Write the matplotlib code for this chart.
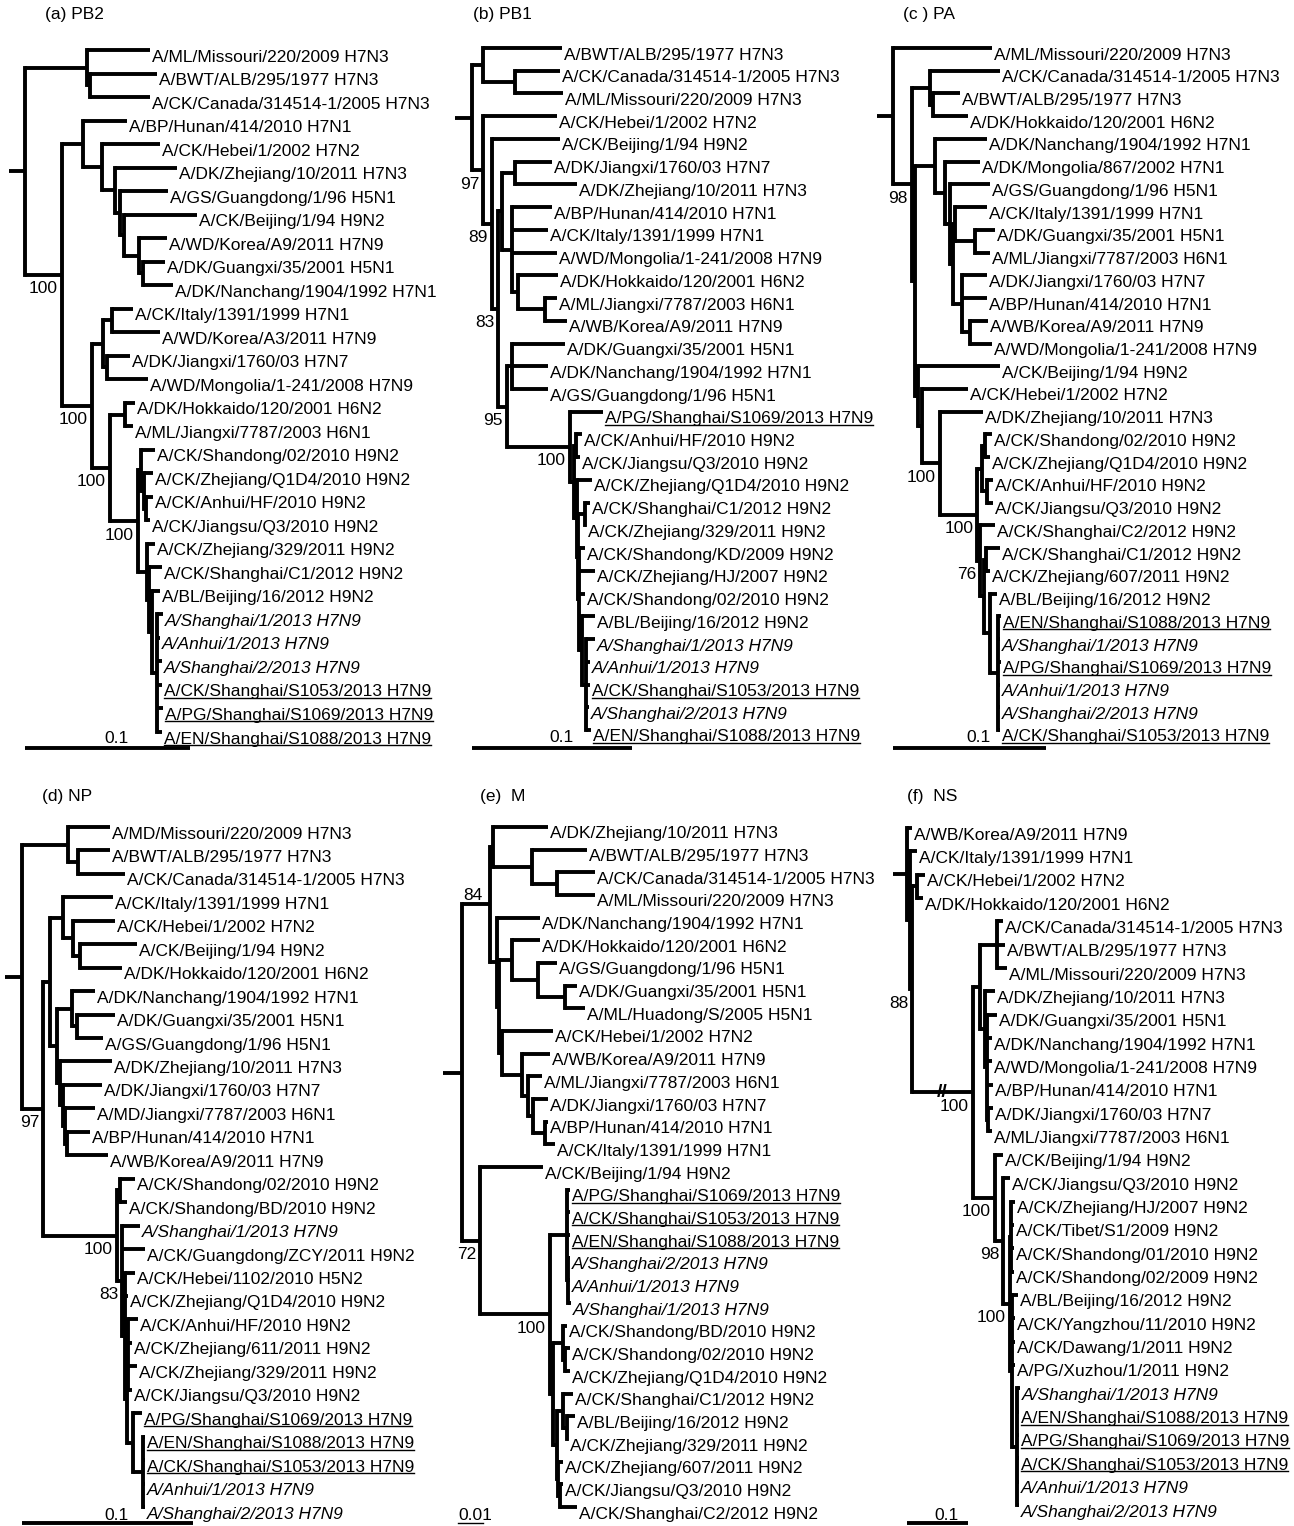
"""Six influenza segment trees (PB2, PB1, PA, NP, M, NS) drawn as rectangular phylograms."""

import matplotlib

matplotlib.use("Agg")
import matplotlib.pyplot as plt
from matplotlib import transforms
from matplotlib.lines import Line2D

plt.rcParams["font.family"] = ["Liberation Sans", "DejaVu Sans"]

W, H = 1294, 1526
INK = "black"
FS = 12.5
LW = 2.8

# ---- data: taxa in drawing order, trees as newick (tip = index into taxa,
# branch lengths in substitutions/site, internal labels = bootstrap) ----

TAXA_A = [
    "A/ML/Missouri/220/2009 H7N3", "A/BWT/ALB/295/1977 H7N3", "A/CK/Canada/314514-1/2005 H7N3",
    "A/BP/Hunan/414/2010 H7N1", "A/CK/Hebei/1/2002 H7N2", "A/DK/Zhejiang/10/2011 H7N3",
    "A/GS/Guangdong/1/96 H5N1", "A/CK/Beijing/1/94 H9N2", "A/WD/Korea/A9/2011 H7N9",
    "A/DK/Guangxi/35/2001 H5N1", "A/DK/Nanchang/1904/1992 H7N1", "A/CK/Italy/1391/1999 H7N1",
    "A/WD/Korea/A3/2011 H7N9", "A/DK/Jiangxi/1760/03 H7N7", "A/WD/Mongolia/1-241/2008 H7N9",
    "A/DK/Hokkaido/120/2001 H6N2", "A/ML/Jiangxi/7787/2003 H6N1", "A/CK/Shandong/02/2010 H9N2",
    "A/CK/Zhejiang/Q1D4/2010 H9N2", "A/CK/Anhui/HF/2010 H9N2", "A/CK/Jiangsu/Q3/2010 H9N2",
    "A/CK/Zhejiang/329/2011 H9N2", "A/CK/Shanghai/C1/2012 H9N2", "A/BL/Beijing/16/2012 H9N2",
    "A/Shanghai/1/2013 H7N9", "A/Anhui/1/2013 H7N9", "A/Shanghai/2/2013 H7N9",
    "A/CK/Shanghai/S1053/2013 H7N9", "A/PG/Shanghai/S1069/2013 H7N9", "A/EN/Shanghai/S1088/2013 H7N9",
]
TREE_A = """(
 (0:0.0382,(1:0.0406,2:0.0364):0.0018):0.0376,
 ((3:0.0267,(4:0.0352,(5:0.0376,(6:0.0291,(7:0.0442,(8:0.0170,(9:0.0133,10:0.0182):0.0024):0.0091):0.0024):0.0030):0.0079):0.0115):0.0127,
  (((11:0.0127,12:0.0291):0.0055,(13:0.0139,14:0.0248):0.0024):0.0067,
   ((15:0.0061,16:0.0048):0.0091,
    ((17:0.0085,(18:0.0055,(19:0.0042,20:0.0024):0.0012):0.0018):0.0018,
     (21:0.0048,(22:0.0079,(23:0.0048,(24:0.0036,25:0.0018,26:0.0030,27:0.0030,28:0.0036,29:0.0030):0.0030):0.0018):0.0012):0.0055
    )100:0.0170
   )100:0.0109
  )100:0.0182
 )100:0.0224
):0.0097;"""

TAXA_B = [
    "A/BWT/ALB/295/1977 H7N3", "A/CK/Canada/314514-1/2005 H7N3", "A/ML/Missouri/220/2009 H7N3",
    "A/CK/Hebei/1/2002 H7N2", "A/CK/Beijing/1/94 H9N2", "A/DK/Jiangxi/1760/03 H7N7",
    "A/DK/Zhejiang/10/2011 H7N3", "A/BP/Hunan/414/2010 H7N1", "A/CK/Italy/1391/1999 H7N1",
    "A/WD/Mongolia/1-241/2008 H7N9", "A/DK/Hokkaido/120/2001 H6N2", "A/ML/Jiangxi/7787/2003 H6N1",
    "A/WB/Korea/A9/2011 H7N9", "A/DK/Guangxi/35/2001 H5N1", "A/DK/Nanchang/1904/1992 H7N1",
    "A/GS/Guangdong/1/96 H5N1", "A/PG/Shanghai/S1069/2013 H7N9", "A/CK/Anhui/HF/2010 H9N2",
    "A/CK/Jiangsu/Q3/2010 H9N2", "A/CK/Zhejiang/Q1D4/2010 H9N2", "A/CK/Shanghai/C1/2012 H9N2",
    "A/CK/Zhejiang/329/2011 H9N2", "A/CK/Shandong/KD/2009 H9N2", "A/CK/Zhejiang/HJ/2007 H9N2",
    "A/CK/Shandong/02/2010 H9N2", "A/BL/Beijing/16/2012 H9N2", "A/Shanghai/1/2013 H7N9",
    "A/Anhui/1/2013 H7N9", "A/CK/Shanghai/S1053/2013 H7N9", "A/Shanghai/2/2013 H7N9",
    "A/EN/Shanghai/S1088/2013 H7N9",
]
TREE_B = """(
 (0:0.0494,(1:0.0281,2:0.0300):0.0200):0.0069,
 (3:0.0463,
  (4:0.0425,
   (((5:0.0231,6:0.0388):0.0081,(7:0.0250,8:0.0225,9:0.0281,(10:0.0250,(11:0.0075,12:0.0138):0.0169):0.0038):0.0063):0.0025,
    ((13:0.0331,14:0.0225,15:0.0225):0.0031,
     (16:0.0206,
      ((17:0.0038,18:0.0025):0.0013,
       (19:0.0094,
        ((20:0.0031,21:0.0006):0.0044,
         (22:0.0038,23:0.0100,24:0.0038,(25:0.0081,(26:0.0056,27:0.0025,28:0.0025,29:0.0019,30:0.0031):0.0025):0.0019):0.0006
        ):0.0006
       ):0.0019
      ):0.0025
     )100:0.0394
    )95:0.0056
   )83:0.0038
  )89:0.0056
 )97:0.0069
):0.0106;"""

TAXA_C = [
    "A/ML/Missouri/220/2009 H7N3", "A/CK/Canada/314514-1/2005 H7N3", "A/BWT/ALB/295/1977 H7N3",
    "A/DK/Hokkaido/120/2001 H6N2", "A/DK/Nanchang/1904/1992 H7N1", "A/DK/Mongolia/867/2002 H7N1",
    "A/GS/Guangdong/1/96 H5N1", "A/CK/Italy/1391/1999 H7N1", "A/DK/Guangxi/35/2001 H5N1",
    "A/ML/Jiangxi/7787/2003 H6N1", "A/DK/Jiangxi/1760/03 H7N7", "A/BP/Hunan/414/2010 H7N1",
    "A/WB/Korea/A9/2011 H7N9", "A/WD/Mongolia/1-241/2008 H7N9", "A/CK/Beijing/1/94 H9N2",
    "A/CK/Hebei/1/2002 H7N2", "A/DK/Zhejiang/10/2011 H7N3", "A/CK/Shandong/02/2010 H9N2",
    "A/CK/Zhejiang/Q1D4/2010 H9N2", "A/CK/Anhui/HF/2010 H9N2", "A/CK/Jiangsu/Q3/2010 H9N2",
    "A/CK/Shanghai/C2/2012 H9N2", "A/CK/Shanghai/C1/2012 H9N2", "A/CK/Zhejiang/607/2011 H9N2",
    "A/BL/Beijing/16/2012 H9N2", "A/EN/Shanghai/S1088/2013 H7N9", "A/Shanghai/1/2013 H7N9",
    "A/PG/Shanghai/S1069/2013 H7N9", "A/Anhui/1/2013 H7N9", "A/Shanghai/2/2013 H7N9",
    "A/CK/Shanghai/S1053/2013 H7N9",
]
TREE_C = """(0:0.0647,
 ((1:0.0458,(2:0.0177,3:0.0229):0.0020):0.0118,
  ((4:0.0340,(5:0.0229,(6:0.0262,((7:0.0209,(8:0.0131,9:0.0098):0.0131):0.0013,(10:0.0164,11:0.0164,(12:0.0118,13:0.0144):0.0052):0.0059):0.0020):0.0033):0.0065):0.0131,
   (14:0.0536,
    (15:0.0301,
     (16:0.0281,
      (((17:0.0046,18:0.0033):0.0020,(19:0.0039,20:0.0039):0.0033):0.0033,
       (21:0.0098,((22:0.0092,23:0.0026):0.0013,(24:0.0046,(25:0.0020,26:0.0013,27:0.0020,28:0.0013,29:0.0013,30:0.0013):0.0052):0.0039):0.0026)76:0.0020
      )100:0.0242
     )100:0.0118
    ):0.0026
   ):0.0020
  ):0.0020
 )98:0.0124
):0.0105;"""

TAXA_D = [
    "A/MD/Missouri/220/2009 H7N3", "A/BWT/ALB/295/1977 H7N3", "A/CK/Canada/314514-1/2005 H7N3",
    "A/CK/Italy/1391/1999 H7N1", "A/CK/Hebei/1/2002 H7N2", "A/CK/Beijing/1/94 H9N2",
    "A/DK/Hokkaido/120/2001 H6N2", "A/DK/Nanchang/1904/1992 H7N1", "A/DK/Guangxi/35/2001 H5N1",
    "A/GS/Guangdong/1/96 H5N1", "A/DK/Zhejiang/10/2011 H7N3", "A/DK/Jiangxi/1760/03 H7N7",
    "A/MD/Jiangxi/7787/2003 H6N1", "A/BP/Hunan/414/2010 H7N1", "A/WB/Korea/A9/2011 H7N9",
    "A/CK/Shandong/02/2010 H9N2", "A/CK/Shandong/BD/2010 H9N2", "A/Shanghai/1/2013 H7N9",
    "A/CK/Guangdong/ZCY/2011 H9N2", "A/CK/Hebei/1102/2010 H5N2", "A/CK/Zhejiang/Q1D4/2010 H9N2",
    "A/CK/Anhui/HF/2010 H9N2", "A/CK/Zhejiang/611/2011 H9N2", "A/CK/Zhejiang/329/2011 H9N2",
    "A/CK/Jiangsu/Q3/2010 H9N2", "A/PG/Shanghai/S1069/2013 H7N9", "A/EN/Shanghai/S1088/2013 H7N9",
    "A/CK/Shanghai/S1053/2013 H7N9", "A/Anhui/1/2013 H7N9", "A/Shanghai/2/2013 H7N9",
]
TREE_D = """(
 (0:0.0246,(1:0.0187,2:0.0275):0.0058):0.0269,
 (((3:0.0292,(4:0.0246,(5:0.0333,6:0.0246):0.0041):0.0058):0.0076,
   ((7:0.0135,(8:0.0222,9:0.0152):0.0029):0.0088,(10:0.0304,(11:0.0228,(12:0.0176,(13:0.0135,14:0.0240):0.0012):0.0012):0.0018):0.0018):0.0041
  ):0.0041,
  ((15:0.0088,16:0.0041):0.0018,
   (17:0.0105,18:0.0135,(19:0.0058,20:0.0018,((21:0.0058,22:0.0023,23:0.0053,24:0.0023):0.0006,(25:0.0053,(26:0.0012,27:0.0012,28:0.0012,29:0.0012):0.0058):0.0035):0.0012):0.0018)83:0.0029
  )100:0.0433
 )97:0.0123
):0.0099;"""

TAXA_E = [
    "A/DK/Zhejiang/10/2011 H7N3", "A/BWT/ALB/295/1977 H7N3", "A/CK/Canada/314514-1/2005 H7N3",
    "A/ML/Missouri/220/2009 H7N3", "A/DK/Nanchang/1904/1992 H7N1", "A/DK/Hokkaido/120/2001 H6N2",
    "A/GS/Guangdong/1/96 H5N1", "A/DK/Guangxi/35/2001 H5N1", "A/ML/Huadong/S/2005 H5N1",
    "A/CK/Hebei/1/2002 H7N2", "A/WB/Korea/A9/2011 H7N9", "A/ML/Jiangxi/7787/2003 H6N1",
    "A/DK/Jiangxi/1760/03 H7N7", "A/BP/Hunan/414/2010 H7N1", "A/CK/Italy/1391/1999 H7N1",
    "A/CK/Beijing/1/94 H9N2", "A/PG/Shanghai/S1069/2013 H7N9", "A/CK/Shanghai/S1053/2013 H7N9",
    "A/EN/Shanghai/S1088/2013 H7N9", "A/Shanghai/2/2013 H7N9", "A/Anhui/1/2013 H7N9",
    "A/Shanghai/1/2013 H7N9", "A/CK/Shandong/BD/2010 H9N2", "A/CK/Shandong/02/2010 H9N2",
    "A/CK/Zhejiang/Q1D4/2010 H9N2", "A/CK/Shanghai/C1/2012 H9N2", "A/BL/Beijing/16/2012 H9N2",
    "A/CK/Zhejiang/329/2011 H9N2", "A/CK/Zhejiang/607/2011 H9N2", "A/CK/Jiangsu/Q3/2010 H9N2",
    "A/CK/Shanghai/C2/2012 H9N2",
]
TREE_E = """(
 ((0:0.0220,(1:0.0220,(2:0.0152,3:0.0152):0.0100):0.0156):0.0012,
  (4:0.0172,
   ((5:0.0112,(6:0.0076,(7:0.0048,8:0.0080):0.0108):0.0104):0.0052,
    (9:0.0204,(10:0.0112,(11:0.0056,(12:0.0060,(13:0.0012,14:0.0040):0.0048):0.0020):0.0024):0.0080):0.0012
   ):0.0008
  ):0.0028
 )84:0.0112,
 (15:0.0252,
  ((16:0.0012,17:0.0012,18:0.0012,(19:0.0008,20:0.0008,21:0.0012):0.0004):0.0068,
   ((22:0.0016,(23:0.0020,24:0.0020):0.0008):0.0040,
    ((25:0.0040,(26:0.0032,27:0.0004):0.0016):0.0024,(28:0.0020,(29:0.0012,30:0.0068):0.0008):0.0004):0.0016
   ):0.0012
  )100:0.0280
 )72:0.0072
):0.0076;"""

TAXA_F = [
    "A/WB/Korea/A9/2011 H7N9", "A/CK/Italy/1391/1999 H7N1", "A/CK/Hebei/1/2002 H7N2",
    "A/DK/Hokkaido/120/2001 H6N2", "A/CK/Canada/314514-1/2005 H7N3", "A/BWT/ALB/295/1977 H7N3",
    "A/ML/Missouri/220/2009 H7N3", "A/DK/Zhejiang/10/2011 H7N3", "A/DK/Guangxi/35/2001 H5N1",
    "A/DK/Nanchang/1904/1992 H7N1", "A/WD/Mongolia/1-241/2008 H7N9", "A/BP/Hunan/414/2010 H7N1",
    "A/DK/Jiangxi/1760/03 H7N7", "A/ML/Jiangxi/7787/2003 H6N1", "A/CK/Beijing/1/94 H9N2",
    "A/CK/Jiangsu/Q3/2010 H9N2", "A/CK/Zhejiang/HJ/2007 H9N2", "A/CK/Tibet/S1/2009 H9N2",
    "A/CK/Shandong/01/2010 H9N2", "A/CK/Shandong/02/2009 H9N2", "A/BL/Beijing/16/2012 H9N2",
    "A/CK/Yangzhou/11/2010 H9N2", "A/CK/Dawang/1/2011 H9N2", "A/PG/Xuzhou/1/2011 H9N2",
    "A/Shanghai/1/2013 H7N9", "A/EN/Shanghai/S1088/2013 H7N9", "A/PG/Shanghai/S1069/2013 H7N9",
    "A/CK/Shanghai/S1053/2013 H7N9", "A/Anhui/1/2013 H7N9", "A/Shanghai/2/2013 H7N9",
]
TREE_F = """(0:0.0082,
 (1:0.0115,
  ((2:0.0131,3:0.0098):0.0082,
   (((4:0.0098,5:0.0131,6:0.0164):0.0279,
     (7:0.0164,(8:0.0164,9:0.0082,10:0.0082,11:0.0098,(12:0.0082,13:0.0066):0.0016):0.0033):0.0082
    ):0.0115,
    (14:0.0131,
     (15:0.0115,
      ((16:0.0066,17:0.0049,18:0.0049,19:0.0049):0.0016,
       (20:0.0098,21:0.0049,22:0.0049,23:0.0049,(24:0.0049,25:0.0033,26:0.0033,27:0.0033,28:0.0033,29:0.0033):0.0082):0.0033
      )100:0.0115
     )98:0.0131
    )100:0.0361
   )100:0.1000
  )88:0.0033
 ):0.0049
):0.0230;"""

SCALE_VALUES = {"a": 0.1, "b": 0.1, "c": 0.1, "d": 0.1, "e": 0.01, "f": 0.1}

# ---- layout (pixels in the 1294x1526 canvas) ----
PANELS = [
    dict(key="a", title="(a) PB2", taxa=TAXA_A, tree=TREE_A, title_xy=(45, 15),
         root_px=25, bar_px=165, first_px=50, last_px=732, bar_dy=16, lab_dy=6),
    dict(key="b", title="(b) PB1", taxa=TAXA_B, tree=TREE_B, title_xy=(473, 15),
         root_px=472, bar_px=160, first_px=48, last_px=730, bar_dy=18, lab_dy=7),
    dict(key="c", title="(c ) PA", taxa=TAXA_C, tree=TREE_C, title_xy=(903, 15),
         root_px=893, bar_px=153, first_px=48, last_px=730, bar_dy=18, lab_dy=7),
    dict(key="d", title="(d) NP", taxa=TAXA_D, tree=TREE_D, title_xy=(42, 797),
         root_px=22, bar_px=171, first_px=827, last_px=1507, bar_dy=16, lab_dy=8),
    dict(key="e", title="(e)  M", taxa=TAXA_E, tree=TREE_E, title_xy=(480, 797),
         root_px=462, bar_px=25, first_px=827, last_px=1507, bar_dy=16, lab_dy=8),
    dict(key="f", title="(f)  NS", taxa=TAXA_F, tree=TREE_F, title_xy=(907, 797),
         root_px=907, bar_px=61, first_px=828, last_px=1505, bar_dy=18, lab_dy=11),
]
BOOT_ABOVE = {"e": [(0, 14)]}     # clades whose support value sits above the branch
BROKEN = {"f": [(4, 29)]}         # clades whose stem is drawn shortened with //


def parse_newick(s):
    s = "".join(s.split())
    pos = 0

    def node():
        nonlocal pos
        kids = []
        if s[pos] == "(":
            pos += 1
            kids.append(node())
            while s[pos] == ",":
                pos += 1
                kids.append(node())
            pos += 1
        start = pos
        while s[pos] not in ":,();":
            pos += 1
        label = s[start:pos]
        length = 0.0
        if s[pos] == ":":
            pos += 1
            start = pos
            while s[pos] not in ",();":
                pos += 1
            length = float(s[start:pos])
        return {"children": kids, "label": label, "length": length}

    return node()


def place(nd, x):
    nd["x"] = x
    if not nd["children"]:
        i = int(nd["label"])
        nd["y"], nd["span"] = float(i), (i, i)
        return
    for c in nd["children"]:
        place(c, x + c["length"])
    kids = nd["children"]
    nd["y"] = (kids[0]["y"] + kids[-1]["y"]) / 2
    nd["span"] = (kids[0]["span"][0], kids[-1]["span"][1])


def walk(nd):
    yield nd
    for c in nd["children"]:
        yield from walk(c)


def label_style(name):
    italic = name.startswith("A/Shanghai/") or name.startswith("A/Anhui/")
    underline = "/S10" in name
    return italic, underline


fig = plt.figure(figsize=(W / 100, H / 100), dpi=100, facecolor="white")
underlined = []

for p in PANELS:
    key = p["key"]
    root = parse_newick(p["tree"])
    place(root, 0.0)
    n = len(p["taxa"])
    ppu = p["bar_px"] / SCALE_VALUES[key]
    sp = (p["last_px"] - p["first_px"]) / (n - 1)

    ax = fig.add_axes([0, 0, 1, 1])
    ax.set_axis_off()
    ax.patch.set_visible(False)
    ax.set_xlim(-p["root_px"] / ppu, (W - p["root_px"]) / ppu)
    ax.set_ylim((H - p["first_px"]) / sp, -p["first_px"] / sp)

    def off(dx, dy):
        return transforms.offset_copy(ax.transData, fig=fig, x=dx, y=dy, units="dots")

    # root stub
    ax.plot([-root["length"], 0], [root["y"], root["y"]], color=INK, lw=LW, solid_capstyle="butt")

    for nd in walk(root):
        kids = nd["children"]
        if not kids:
            name = p["taxa"][int(nd["label"])]
            italic, under = label_style(name)
            t = ax.text(nd["x"], nd["y"], name, transform=off(2, -11.5), ha="left", va="baseline",
                        fontsize=FS, fontstyle="italic" if italic else "normal", color=INK)
            if under:
                underlined.append(t)
            continue
        ax.plot([nd["x"], nd["x"]], [kids[0]["y"], kids[-1]["y"]], color=INK, lw=LW,
                solid_capstyle="projecting")
        for c in kids:
            ax.plot([nd["x"], c["x"]], [c["y"], c["y"]], color=INK, lw=LW, solid_capstyle="butt")
            if c["span"] in BROKEN.get(key, []):
                ax.text(nd["x"] + c["length"] / 2, c["y"], "//", ha="center", va="center",
                        fontsize=14, fontweight="bold", color=INK)
        if nd["label"] and nd is not root:
            if nd["span"] in BOOT_ABOVE.get(key, []):
                ax.text(nd["x"], nd["y"], nd["label"], transform=off(-7, 9), ha="right",
                        va="center", fontsize=FS, color=INK)
            else:
                ax.text(nd["x"], nd["y"], nd["label"], transform=off(-4, -14), ha="right",
                        va="center", fontsize=FS, color=INK)

    # scale bar
    val = SCALE_VALUES[key]
    txt = f"{val:g}"
    if key == "e":
        ax.plot([0, val], [n - 1, n - 1], transform=off(-4, -p["bar_dy"]), color=INK, lw=1.0)
        ax.text(0, n - 1, txt, transform=off(-4, -p["lab_dy"]), ha="left", va="center",
                fontsize=FS, color=INK)
    else:
        ax.plot([0, val], [n - 1, n - 1], transform=off(0, -p["bar_dy"]), color=INK, lw=LW,
                solid_capstyle="butt")
        ax.text(val / 2, n - 1, txt, transform=off(9, -p["lab_dy"]), ha="center", va="center",
                fontsize=FS, color=INK)

    tx, ty = p["title_xy"]
    fig.text(tx / W, 1 - ty / H, p["title"], ha="left", va="center", fontsize=FS, color=INK)

# underline the sequenced isolates
fig.canvas.draw()
renderer = fig.canvas.get_renderer()
for t in underlined:
    bb = t.get_window_extent(renderer)
    base = t.get_transform().transform(t.get_position())[1]
    fig.add_artist(Line2D([bb.x0, bb.x1], [base - 1.5, base - 1.5], color=INK, lw=1.0,
                          transform=transforms.IdentityTransform()))

fig.savefig("out.png", dpi=100, facecolor="white")
